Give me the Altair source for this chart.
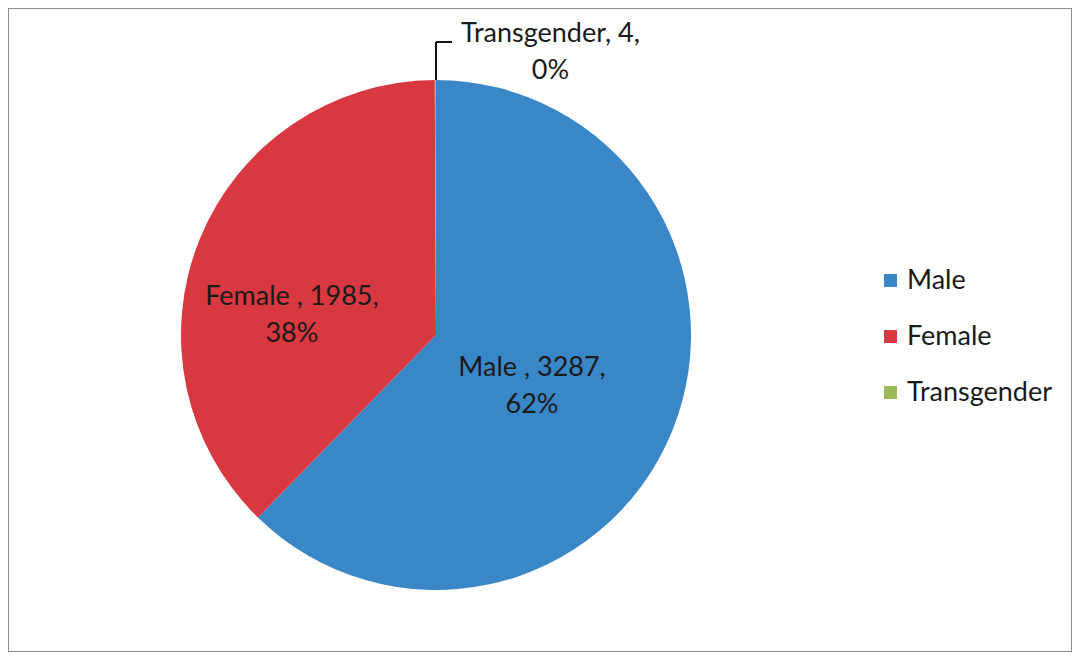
import altair as alt
import pandas as pd

categories = ["Male", "Female", "Transgender"]
counts = [3287, 1985, 4]
percents = ["62%", "38%", "0%"]
separators = [" ,", " ,", ","]
colors = ["#3a87c8", "#d8383f", "#9bbb59"]

labels = [f"{c}{s} {n},\n{p}" for c, s, n, p in zip(categories, separators, counts, percents)]
df = pd.DataFrame({
    "gender": categories,
    "count": counts,
    "label": labels,
    "order": list(range(len(categories))),
})
total = sum(counts)

FONT = "Lato"
CX, CY, R = 428, 327, 255

color_scale = alt.Scale(domain=categories, range=colors)

base = alt.Chart(df)

pie = base.mark_arc(outerRadius=R).encode(
    theta=alt.Theta("count:Q", stack=True, scale=alt.Scale(domain=[0, total])),
    color=alt.Color(
        "gender:N",
        scale=color_scale,
        sort=categories,
        legend=alt.Legend(
            orient="none", legendX=869, legendY=259, title=None,
            symbolType="square", symbolSize=169, symbolStrokeWidth=0,
            labelFontSize=27, labelFont=FONT, labelColor="#1a1a1a",
            rowPadding=28, labelOffset=3, padding=0,
        ),
    ),
    order=alt.Order("order:Q"),
    x=alt.value(CX),
    y=alt.value(CY),
)


def text_layer(name, radius, dx, dy):
    return base.transform_window(
        cum="sum(count)", sort=[alt.SortField("order")]
    ).transform_calculate(
        mid="datum.cum - datum.count / 2"
    ).transform_filter(
        alt.datum.gender == name
    ).mark_text(
        font=FONT, fontSize=27, color="#1a1a1a", lineBreak="\n",
        align="center", baseline="middle", lineHeight=37, dx=dx, dy=dy,
    ).encode(
        theta=alt.Theta("mid:Q"),
        radius=alt.value(radius),
        x=alt.value(CX),
        y=alt.value(CY),
        text="label:N",
    )


t_male = text_layer("Male", 108, -4, -8)
t_female = text_layer("Female", 150, -5, 18)
t_trans = text_layer("Transgender", R, 115, -46)

leader_v = base.transform_filter(alt.datum.gender == "Transgender").mark_rule(
    color="#111111", strokeWidth=2
).encode(x=alt.value(CX), y=alt.value(34), y2=alt.value(CY - R))
leader_h = base.transform_filter(alt.datum.gender == "Transgender").mark_rule(
    color="#111111", strokeWidth=2
).encode(x=alt.value(CX), x2=alt.value(CX + 16), y=alt.value(34))

chart = alt.layer(pie, leader_v, leader_h, t_male, t_female, t_trans).properties(
    width=1064,
    height=644,
    autosize=alt.AutoSizeParams(type="fit", contains="padding"),
    padding=0,
    background="white",
).configure_view(
    stroke="#8c8c8c", strokeWidth=2
)

chart.save("out.html", embed_options={"renderer": "svg", "actions": False})
